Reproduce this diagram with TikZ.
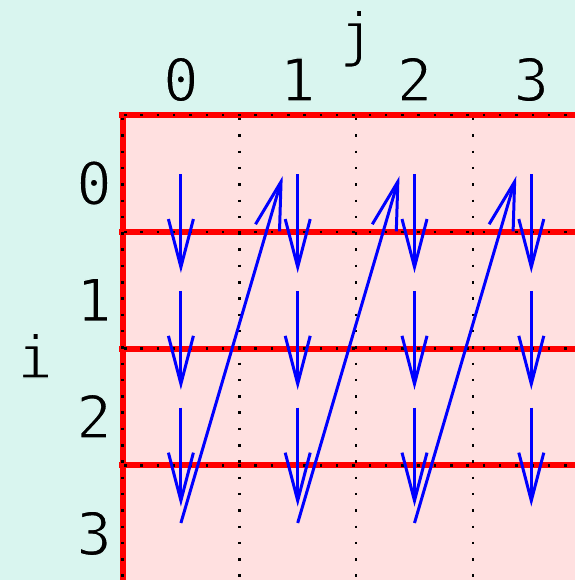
\documentclass[tikz,border=0pt]{standalone}
\usepackage{fontspec}
\setmonofont{DejaVu Sans Mono}
\usetikzlibrary{arrows.meta}
\definecolor{bgmint}{HTML}{D9F5EF}
\definecolor{cellpink}{HTML}{FFE0E0}
\newcommand\thinglyph[1]{\special{pdf:code q 2 Tr 1.3 w 0.851 0.961 0.937 RG}#1\special{pdf:code Q}}
\begin{document}
\begin{tikzpicture}[x=1pt,y=-1pt,
  lbl/.style={font=\ttfamily\fontsize{59}{61}\selectfont, inner sep=0pt, anchor=base},
  redline/.style={draw=red, line width=6pt},
  dotline/.style={draw=black, line width=2.5pt, dash pattern=on 2.5pt off 13.8pt},
  flow/.style={draw=blue, line width=3pt, -{Straight Barb[length=48pt,width=25pt]}}]
\useasboundingbox (0,0) rectangle (575,580);
\fill[bgmint] (0,0) rectangle (575,580);
\fill[cellpink] (122,115) rectangle (575,580);
% red grid lines
\foreach \r in {0,1,2,3} {
  \coordinate (hl-\r) at (119,115+116.8*\r);
  \coordinate (hr-\r) at (575,115+116.8*\r);
  \draw[redline] (hl-\r) -- (hr-\r);
}
\coordinate (vt-0) at (122.5,112);
\coordinate (vb-0) at (122.5,580);
\draw[redline] (vt-0) -- (vb-0);
% dotted lines
\foreach \r in {0,1,2,3} {
  \coordinate (dl-\r) at (124,115+116.8*\r);
  \draw[dotline] (dl-\r) -- (hr-\r);
}
\foreach \c in {0,1,2,3} {
  \coordinate (dt-\c) at (122.5+116.8*\c,118);
  \coordinate (db-\c) at (122.5+116.8*\c,580);
  \draw[dotline] (dt-\c) -- (db-\c);
}
% labels
\node[lbl] (jlab) at (357,55) {\thinglyph{j}};
\node[lbl] (ilab) at (35,378) {\thinglyph{i}};
\foreach \k in {0,1,2,3} {
  \node[lbl] (col-\k) at (180.9+116.8*\k,101) {\thinglyph{\k}};
  \node[lbl] (row-\k) at (94,204.5+116.8*\k) {\thinglyph{\k}};
}
% vertical arrows
\foreach \c in {0,1,2,3} {
  \foreach \r in {0,1,2} {
    \coordinate (vs-\r-\c) at (180.9+116.8*\c,174+116.8*\r);
    \coordinate (ve-\r-\c) at (180.9+116.8*\c,273+116.8*\r);
    \draw[flow] (vs-\r-\c) -- (ve-\r-\c);
  }
}
% diagonal return arrows
\foreach \c in {0,1,2} {
  \coordinate (ds-\c) at (180.9+116.8*\c,523);
  \coordinate (de-\c) at (282.7+116.8*\c,176);
  \draw[flow] (ds-\c) -- (de-\c);
}
\end{tikzpicture}
\end{document}
